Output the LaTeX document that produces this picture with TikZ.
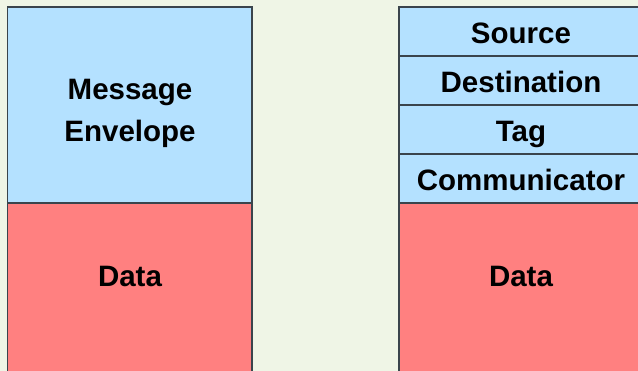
\documentclass[tikz,border=0pt]{standalone}
\usepackage{fontspec}
\setmainfont{Liberation Sans}
\definecolor{bgc}{HTML}{EFF5E6}
\definecolor{envc}{HTML}{B4E1FF}
\definecolor{datac}{HTML}{FF8080}
\definecolor{edgec}{HTML}{3A444C}
\begin{document}
\begin{tikzpicture}[x=1pt,y=-1pt,
  cell/.style={draw=edgec,line width=1.5pt},
  lbl/.style={font=\fontsize{29.5}{36}\selectfont\bfseries,anchor=base,inner sep=0pt,align=center}]
\useasboundingbox (0,0) rectangle (638,371);
\fill[bgc] (0,0) rectangle (638,371);
\begin{scope}
\clip (0,0) rectangle (638,371);
% left stack
\filldraw[cell,fill=envc] (7.5,7) rectangle (252,203);
\filldraw[cell,fill=datac] (7.5,203) rectangle (252,380);
% right stack
\filldraw[cell,fill=envc] (399,7) rectangle (645,56);
\filldraw[cell,fill=envc] (399,56) rectangle (645,105);
\filldraw[cell,fill=envc] (399,105) rectangle (645,154);
\filldraw[cell,fill=envc] (399,154) rectangle (645,203);
\filldraw[cell,fill=datac] (399,203) rectangle (645,380);
\end{scope}
\node[lbl] (msg) at (130,99.5) {Message};
\node[lbl] (env) at (130,141.5) {Envelope};
\node[lbl] (ldata) at (130,287) {Data};
\node[lbl] (src) at (521,44) {Source};
\node[lbl] (dst) at (521,93) {Destination};
\node[lbl] (tag) at (521,142) {Tag};
\node[lbl] (comm) at (521,191) {Communicator};
\node[lbl] (rdata) at (521,287) {Data};
\end{tikzpicture}
\end{document}
